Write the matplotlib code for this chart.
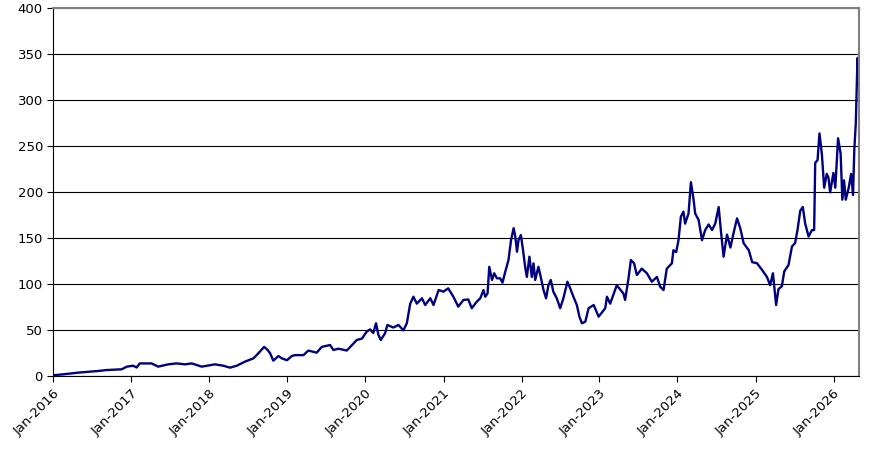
import numpy as np
import pandas as pd
import matplotlib
matplotlib.use("Agg")
import matplotlib.pyplot as plt
import matplotlib.dates as mdates

# Price series
dates = [
    "2016-01-04", "2016-02-10", "2016-04-27", "2016-07-30", "2016-09-07", "2016-11-16",
    "2016-12-10", "2017-01-09", "2017-01-25", "2017-02-09", "2017-04-05", "2017-05-06",
    "2017-06-22", "2017-07-31", "2017-09-08", "2017-10-10", "2017-11-26", "2018-01-27",
    "2018-03-07", "2018-04-07", "2018-05-09", "2018-06-17", "2018-07-26", "2018-08-18",
    "2018-09-14", "2018-10-01", "2018-10-12", "2018-10-27", "2018-11-20", "2018-12-06",
    "2018-12-30", "2019-01-21", "2019-02-05", "2019-03-17", "2019-04-09", "2019-05-18",
    "2019-06-11", "2019-07-20", "2019-08-04", "2019-08-28", "2019-10-06", "2019-11-22",
    "2019-12-16", "2020-01-07", "2020-01-23", "2020-02-07", "2020-02-20", "2020-03-02",
    "2020-03-13", "2020-04-02", "2020-04-13", "2020-05-11", "2020-06-04", "2020-06-27",
    "2020-07-13", "2020-07-29", "2020-08-13", "2020-08-29", "2020-09-22", "2020-10-07",
    "2020-10-31", "2020-11-15", "2020-12-09", "2020-12-31", "2021-01-23", "2021-02-16",
    "2021-03-11", "2021-04-04", "2021-04-27", "2021-05-13", "2021-06-05", "2021-06-22",
    "2021-07-07", "2021-07-15", "2021-07-26", "2021-08-03", "2021-08-16", "2021-08-26",
    "2021-09-08", "2021-09-23", "2021-10-04", "2021-10-17", "2021-11-01", "2021-11-13",
    "2021-11-25", "2021-12-03", "2021-12-11", "2021-12-18", "2021-12-29", "2022-01-07",
    "2022-01-18", "2022-01-26", "2022-02-07", "2022-02-18", "2022-02-26", "2022-03-06",
    "2022-03-21", "2022-04-01", "2022-04-14", "2022-04-26", "2022-05-07", "2022-05-18",
    "2022-05-30", "2022-06-15", "2022-07-01", "2022-07-16", "2022-08-04", "2022-08-17",
    "2022-09-01", "2022-09-17", "2022-09-29",
    "2022-10-11", "2022-10-27", "2022-11-11", "2022-12-05", "2022-12-28", "2023-01-28",
    "2023-02-05", "2023-02-20", "2023-03-23", "2023-04-23", "2023-05-01", "2023-05-17",
    "2023-05-28", "2023-06-12", "2023-06-25", "2023-07-18", "2023-08-11", "2023-09-03",
    "2023-09-27", "2023-10-12", "2023-10-28", "2023-11-12", "2023-12-06", "2023-12-13",
    "2023-12-26", "2024-01-06", "2024-01-17", "2024-01-29", "2024-02-06", "2024-02-22",
    "2024-03-04", "2024-03-16", "2024-03-24", "2024-04-09", "2024-04-25", "2024-05-10",
    "2024-05-26", "2024-06-11", "2024-06-26", "2024-07-12", "2024-07-23", "2024-08-04",
    "2024-08-20", "2024-09-05", "2024-09-20", "2024-10-06", "2024-10-21", "2024-11-06",
    "2024-11-30", "2024-12-16", "2025-01-07", "2025-01-30", "2025-02-23", "2025-03-10",
    "2025-03-23", "2025-04-03", "2025-04-07", "2025-04-18", "2025-05-04", "2025-05-15",
    "2025-06-04", "2025-06-20", "2025-07-05", "2025-07-16", "2025-07-29", "2025-08-10",
    "2025-08-21", "2025-09-06", "2025-09-22", "2025-10-02", "2025-10-07", "2025-10-18",
    "2025-10-27", "2025-11-07", "2025-11-18", "2025-11-30", "2025-12-08", "2025-12-16",
    "2025-12-31", "2026-01-09", "2026-01-22", "2026-02-03", "2026-02-11", "2026-02-19",
    "2026-02-27", "2026-03-12", "2026-03-24", "2026-04-02", "2026-04-08", "2026-04-15",
    "2026-04-19", "2026-04-23", "2026-04-27",
]
prices = [
    1.2, 2.0, 4.0, 5.8, 6.8, 7.6,
    10.5, 11.5, 9.6, 14.0, 14.0, 10.5,
    13.0, 14.0, 13.0, 14.0, 10.5, 13.0,
    11.5, 9.4, 11.5, 16.0, 19.5, 25.0,
    32.0, 28.5, 25.0, 17.0, 22.0, 19.5,
    17.5, 22.0, 23.0, 23.0, 28.0, 25.7,
    32.0, 34.0, 28.6, 30.0, 28.0, 39.5,
    41.0, 48.5, 51.0, 47.0, 57.6, 45.0,
    39.5, 46.7, 55.8, 53.0, 55.8, 50.0,
    57.6, 79.0, 86.5, 79.0, 84.8, 77.5,
    84.8, 77.5, 93.8, 92.0, 95.6, 86.5,
    75.7, 83.0, 83.5, 74.0, 81.0, 84.8,
    93.8, 86.5, 90.0, 119.0, 104.7, 112.0,
    106.5, 106.5, 101.8, 113.7, 126.4, 148.0,
    161.0, 151.7, 135.4, 148.0, 153.6, 139.0,
    119.0, 108.0, 130.0, 108.0, 122.8, 104.7,
    119.0, 108.0, 93.8, 84.8, 99.0, 104.7,
    92.0, 84.8, 74.0, 84.8, 102.8, 95.6,
    86.5, 77.5, 64.8,
    57.6, 59.5, 74.0, 77.5, 64.8, 74.0,
    86.5, 79.0, 99.0, 90.0, 83.0, 106.5,
    126.4, 122.8, 110.0, 117.0, 112.0, 102.8,
    108.0, 97.4, 93.8, 117.0, 122.8, 137.0,
    135.0, 148.0, 173.5, 179.0, 166.0, 177.0,
    211.0, 193.0, 177.0, 170.0, 148.0, 159.0,
    165.0, 159.0, 166.0, 184.0, 157.0, 130.0,
    154.0, 140.0, 156.0, 171.7, 161.0, 144.6,
    137.0, 124.0, 123.0, 116.0, 108.0, 99.0,
    112.0, 86.5, 77.5, 94.7, 98.0, 114.0,
    121.0, 141.0, 145.0, 159.0, 180.0, 184.0,
    166.0, 152.0, 159.0, 159.0, 232.0, 235.0,
    264.0, 242.0, 205.0, 220.0, 216.0, 200.0,
    221.0, 205.0, 258.7, 242.0, 192.0, 213.0,
    192.0, 204.0, 220.0, 197.0, 246.0, 275.0,
    311.0, 346.0, 322.0,
]
year_ticks = [f"{y}-01-01" for y in range(2016, 2027)]

x = pd.to_datetime(dates)

fig = plt.figure(figsize=(8.83, 4.49), dpi=100)
ax = fig.add_axes([53.3 / 883, 1 - 376.3 / 449, (859 - 53.3) / 883, (376.3 - 8.3) / 449])

ax.plot(x, prices, color="#000080", linewidth=1.7)

# Formatting
ax.set_ylim(0, 400)
ax.set_yticks(np.arange(0, 401, 50))
ax.set_xlim(pd.Timestamp("2016-01-01"), pd.Timestamp("2026-04-30"))
ax.set_xticks(pd.to_datetime(year_ticks))
ax.xaxis.set_major_formatter(mdates.DateFormatter("%b-%Y"))
ax.yaxis.grid(True, color="black", linewidth=0.8)
ax.set_axisbelow(True)

for side in ["top", "right"]:
    ax.spines[side].set_color("#808080")
    ax.spines[side].set_linewidth(1.5)
for side in ["left", "bottom"]:
    ax.spines[side].set_color("black")
    ax.spines[side].set_linewidth(0.8)

ax.tick_params(axis="both", direction="out", length=4, width=0.8, labelsize=9.5, color="black")
plt.setp(ax.get_xticklabels(), rotation=45, ha="right", rotation_mode="anchor")

fig.savefig("out.png", dpi=100)
